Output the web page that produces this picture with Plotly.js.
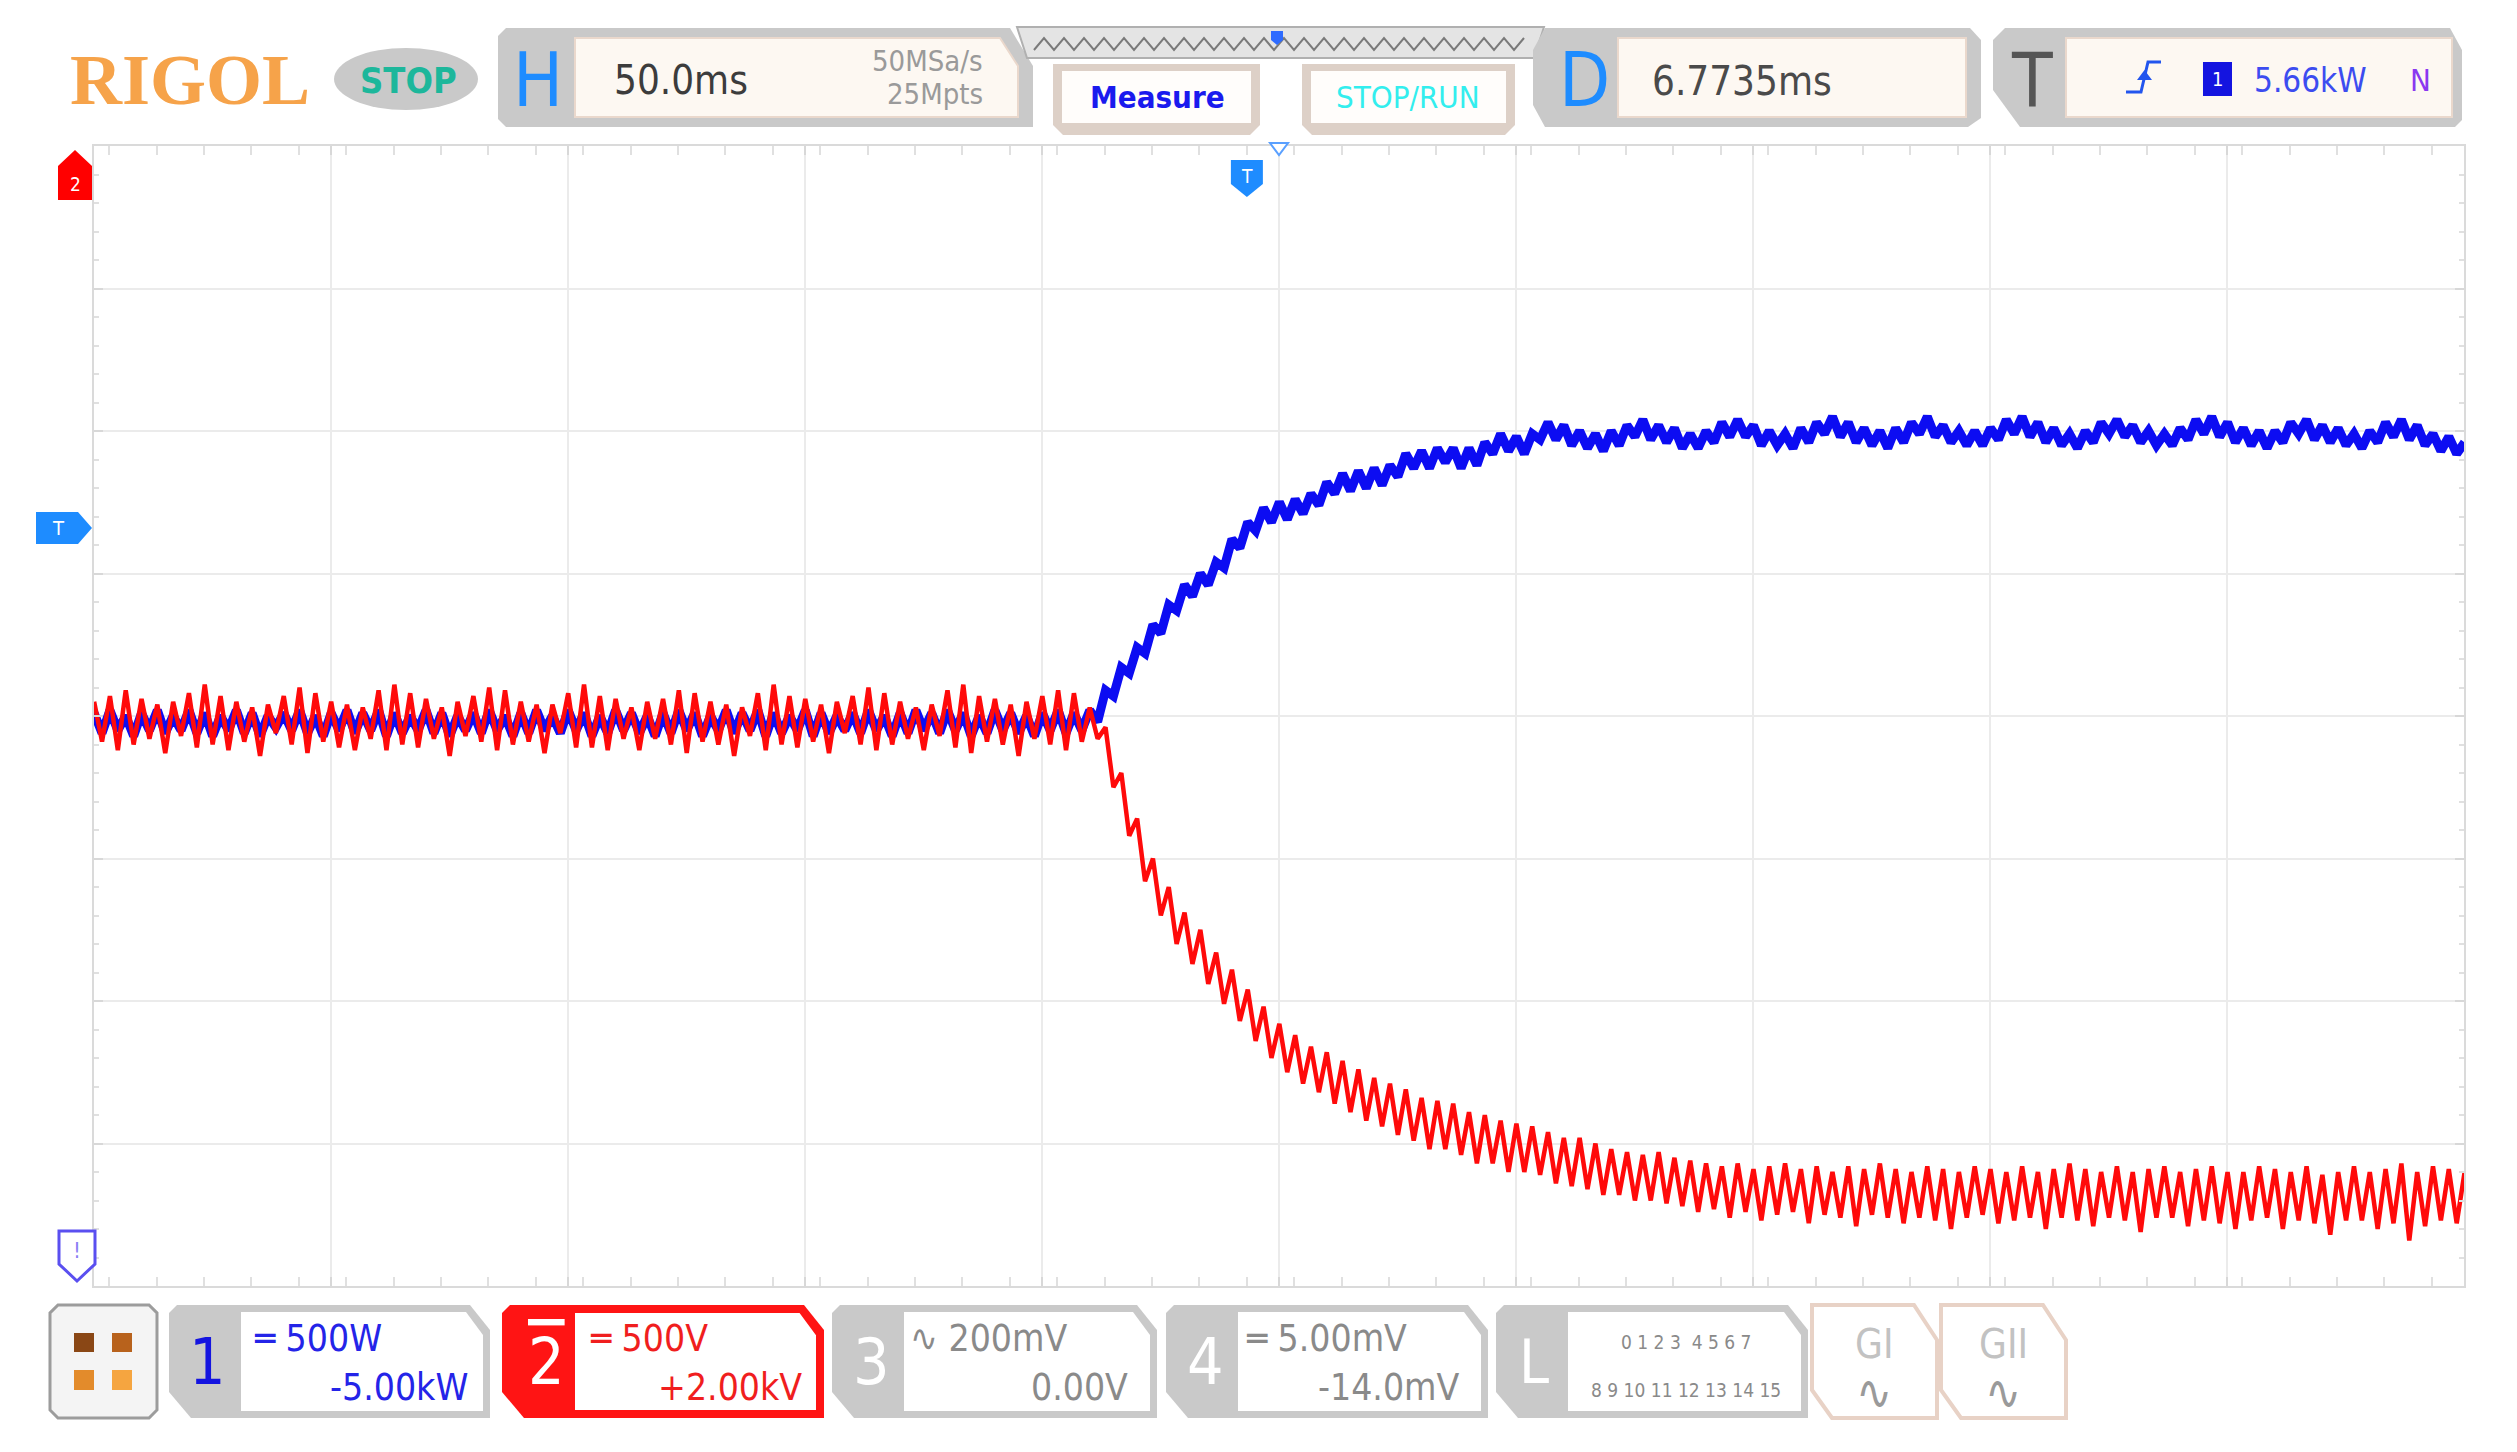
<!DOCTYPE html>
<html>
<head>
<meta charset="utf-8">
<script src="https://cdn.plot.ly/plotly-3.0.1.min.js"></script>
<style>
html, body { margin:0; padding:0; background:#fff; }
#scope { width:2517px; height:1452px; }
</style>
</head>
<body>
<div id="scope"></div>
<script>
// scope settings
const TIMEBASE_MS = 50
const DELAY_MS = 6.7735
const CH1_SCALE_KW = 0.5
const CH1_OFFSET_KW = -5.0
const CH2_SCALE_KV = 0.5
const CH2_OFFSET_KV = 2.0
const TRIG_LEVEL_KW = 5.66

// stored samples, one every SAMPLE_MS starting at FIRST_SAMPLE_MS (trigger = 0)
const FIRST_SAMPLE_MS = -243.2
const SAMPLE_MS = 1.667

// CH1, power in kW
const ch1_kw = [
5.01,4.94,5.02,4.95,5.00,4.93,5.01,4.95,5.02,4.94,5.00,4.95,
5.02,4.94,5.01,4.93,5.00,4.95,5.02,4.94,5.01,4.93,5.00,4.96,
5.01,4.95,5.02,4.94,5.00,4.93,5.01,4.95,5.02,4.94,5.01,4.95,
5.02,4.93,5.01,4.94,5.00,4.95,5.02,4.94,5.01,4.93,5.00,4.95,
5.01,4.94,5.02,4.95,5.00,4.93,5.01,4.94,5.02,4.95,5.00,4.94,
5.02,4.95,5.01,4.93,5.00,4.94,5.02,4.95,5.01,4.94,5.00,4.93,
5.01,4.94,5.02,4.95,5.01,4.93,5.00,4.95,5.02,4.94,5.01,4.95,
5.02,4.93,5.01,4.94,5.00,4.95,5.02,4.93,5.01,4.94,5.00,4.95,
5.01,4.94,5.02,4.95,5.00,4.93,5.01,4.94,5.02,4.95,5.01,4.94,
5.02,4.95,5.01,4.93,5.00,4.94,5.02,4.95,5.01,4.94,5.00,4.93,
5.01,4.95,5.02,4.94,5.01,4.95,5.02,
4.98,5.09,5.07,5.17,5.15,5.24,5.22,5.32,5.29,5.39,
5.37,5.46,5.42,5.50,5.46,5.54,5.52,5.62,5.59,5.68,
5.65,5.73,5.68,5.75,5.69,5.76,5.71,5.78,5.74,5.82,
5.78,5.85,5.79,5.86,5.80,5.87,5.81,5.88,5.84,5.92,
5.87,5.93,5.87,5.94,5.89,5.94,5.87,5.94,5.88,5.96,
5.92,5.99,5.93,5.98,5.92,5.99,
5.97,6.03,5.97,6.02,5.95,6.00,5.94,5.99,5.93,6.00,5.95,6.02,
5.98,6.04,5.97,6.02,5.96,6.01,5.94,5.99,5.94,6.00,5.96,6.03,
5.98,6.04,5.98,6.02,5.95,6.00,5.95,5.99,5.94,6.01,5.96,6.03,
5.99,6.05,5.98,6.03,5.96,6.01,5.95,6.00,5.94,6.01,5.96,6.03,
5.99,6.05,5.98,6.02,5.96,6.00,5.95,6.00,5.95,6.01,5.97,6.04,
5.99,6.05,5.98,6.03,5.96,6.01,5.95,5.99,5.94,6.00,5.96,6.03,
5.99,6.04,5.98,6.02,5.96,6.00,5.95,5.99,5.95,6.01,5.97,6.04,
5.99,6.05,5.98,6.03,5.96,6.01,5.95,6.00,5.94,6.00,5.96,6.03,
5.99,6.04,5.97,6.02,5.96,6.01,5.95,5.99,5.94,6.00,5.96,6.03,
5.98,6.04,5.97,6.02,5.95,5.99,5.93,5.98,5.92,5.96
]

// CH2, voltage in kV
const ch2_kv = [
-1.95,-2.09,-1.93,-2.12,-1.91,-2.10,-1.94,-2.08,-1.96,-2.13,-1.95,-2.07,
-1.92,-2.11,-1.89,-2.10,-1.93,-2.12,-1.95,-2.09,-1.97,-2.14,-1.96,-2.06,
-1.93,-2.10,-1.90,-2.13,-1.92,-2.09,-1.95,-2.11,-1.96,-2.12,-1.97,-2.08,
-1.91,-2.12,-1.89,-2.10,-1.92,-2.11,-1.94,-2.08,-1.97,-2.14,-1.95,-2.07,
-1.93,-2.09,-1.90,-2.12,-1.91,-2.10,-1.95,-2.09,-1.96,-2.13,-1.96,-2.06,
-1.92,-2.11,-1.89,-2.11,-1.93,-2.12,-1.94,-2.08,-1.97,-2.12,-1.95,-2.08,
-1.94,-2.10,-1.91,-2.13,-1.92,-2.09,-1.95,-2.10,-1.96,-2.14,-1.97,-2.07,
-1.92,-2.12,-1.89,-2.10,-1.93,-2.11,-1.94,-2.09,-1.96,-2.13,-1.95,-2.06,
-1.93,-2.10,-1.90,-2.12,-1.92,-2.10,-1.95,-2.08,-1.97,-2.12,-1.96,-2.07,
-1.91,-2.11,-1.89,-2.13,-1.93,-2.09,-1.94,-2.10,-1.96,-2.14,-1.95,-2.08,
-1.93,-2.10,-1.91,-2.12,-1.92,-2.09,-1.97,
-2.08,-2.04,-2.25,-2.20,-2.42,-2.36,-2.58,-2.50,-2.70,-2.60,
-2.80,-2.69,-2.87,-2.75,-2.94,-2.83,-3.01,-2.89,-3.07,-2.96,
-3.14,-3.02,-3.20,-3.08,-3.25,-3.12,-3.29,-3.16,-3.32,-3.18,
-3.36,-3.21,-3.39,-3.24,-3.42,-3.27,-3.44,-3.29,-3.47,-3.31,
-3.49,-3.34,-3.52,-3.35,-3.52,-3.36,-3.54,-3.39,-3.57,-3.40,
-3.57,-3.42,-3.60,-3.43,-3.60,-3.44,-3.61,-3.46,-3.64,-3.48,
-3.65,-3.48,-3.66,-3.50,-3.68,-3.52,-3.68,-3.53,-3.70,-3.54,
-3.70,-3.53,-3.71,-3.55,
-3.72,-3.56,-3.74,-3.57,-3.73,-3.58,-3.76,-3.57,-3.74,-3.59,-3.77,-3.58,
-3.75,-3.57,-3.74,-3.59,-3.78,-3.58,-3.75,-3.60,-3.76,-3.58,-3.79,-3.59,
-3.75,-3.57,-3.76,-3.59,-3.78,-3.60,-3.76,-3.58,-3.77,-3.59,-3.80,-3.60,
-3.76,-3.58,-3.75,-3.59,-3.78,-3.60,-3.77,-3.58,-3.76,-3.60,-3.80,-3.59,
-3.76,-3.57,-3.77,-3.59,-3.79,-3.60,-3.76,-3.58,-3.77,-3.60,-3.81,-3.59,
-3.76,-3.58,-3.76,-3.60,-3.79,-3.59,-3.77,-3.58,-3.78,-3.60,-3.80,-3.60,
-3.77,-3.58,-3.76,-3.59,-3.80,-3.60,-3.77,-3.58,-3.78,-3.61,-3.82,-3.60,
-3.77,-3.58,-3.77,-3.60,-3.80,-3.59,-3.78,-3.57,-3.84,-3.60,-3.79,-3.58,
-3.77,-3.59,-3.78,-3.60
]

const t_ms = ch1_kw.map((v, i) => FIRST_SAMPLE_MS + i * SAMPLE_MS)

const X_RANGE = [DELAY_MS - 5 * TIMEBASE_MS, DELAY_MS + 5 * TIMEBASE_MS]
const Y1_RANGE = [-CH1_OFFSET_KW - 4 * CH1_SCALE_KW, -CH1_OFFSET_KW + 4 * CH1_SCALE_KW]
const Y2_RANGE = [-CH2_OFFSET_KV - 4 * CH2_SCALE_KV, -CH2_OFFSET_KV + 4 * CH2_SCALE_KV]

// screen area in page pixels
const PL = 94, PR = 2464, PT = 146, PB = 1286
const NARROW = '"Liberation Sans Narrow", "DejaVu Sans Condensed", "Roboto Condensed", "Arial Narrow", "Liberation Sans", sans-serif'

function fx(x){ return (x - PL) / (PR - PL) }
function fy(y){ return (PB - y) / (PB - PT) }
function timePx(t){ return PL + (t - X_RANGE[0]) / (X_RANGE[1] - X_RANGE[0]) * (PR - PL) }
function kwPx(v){ return PB - (v - Y1_RANGE[0]) / (Y1_RANGE[1] - Y1_RANGE[0]) * (PB - PT) }

let shapes = []
let annotations = []

function poly(pts, fill, line, lw){
	shapes.push({
		type:'path', xref:'paper', yref:'paper', layer:'above',
		path:'M' + pts.map(p => fx(p[0]).toFixed(5) + ',' + fy(p[1]).toFixed(5)).join('L') + 'Z',
		fillcolor:fill, line:{color:line || fill, width:lw || 0}
	})
}
function polyline(pts, color, lw){
	shapes.push({
		type:'path', xref:'paper', yref:'paper', layer:'above',
		path:'M' + pts.map(p => fx(p[0]).toFixed(5) + ',' + fy(p[1]).toFixed(5)).join('L'),
		line:{color:color, width:lw}
	})
}
function label(x, y, text, size, color, opts){
	annotations.push(Object.assign({
		xref:'paper', yref:'paper', x:fx(x), y:fy(y), text:text, showarrow:false,
		xanchor:'center', yanchor:'middle',
		font:{family:NARROW, size:size, color:color}
	}, opts || {}))
}
function rect(x0, y0, x1, y1, fill, line, lw){
	poly([[x0,y0],[x1,y0],[x1,y1],[x0,y1]], fill, line, lw)
}

// ---- top bar ----
label(190, 80, '<b>RIGOL</b>', 72, '#f6a34a', {font:{family:'"Liberation Serif", "DejaVu Serif", serif', size:72, color:'#f6a34a'}})
shapes.push({type:'circle', xref:'paper', yref:'paper', layer:'above', x0:fx(334), x1:fx(478), y0:fy(48), y1:fy(110), fillcolor:'#c9c9c9', line:{width:0}})
label(408, 81, '<b>STOP</b>', 36, '#1db79b')

// H box
poly([[506,28],[1010,28],[1033,66],[1033,127],[506,127],[498,119],[498,36]], '#c9c9c9')
poly([[575,38],[1000,38],[1018,66],[1018,117],[575,117]], '#fdf8f2', '#ead8cc', 2)
label(538, 80, 'H', 74, '#1e8cff')
label(612, 80, '50.0ms', 40, '#3c3c3c', {xanchor:'left'})
label(985, 61, '50MSa/s', 29, '#9a9a9a', {xanchor:'right'})
label(985, 94, '25Mpts', 29, '#9a9a9a', {xanchor:'right'})

// memory overview bar
poly([[1017,27],[1544,27],[1534,58],[1027,58]], '#e4e4e4', '#b0b0b0', 2)
let zig = []
for(let x = 1034; x <= 1526; x += 10) zig.push([x, (x - 1034) % 20 == 0 ? 50 : 38])
polyline(zig, '#7a7a7a', 2)
poly([[1271,31],[1283,31],[1283,40],[1277,45],[1271,40]], '#2e6bff')

// Measure and STOP/RUN buttons
poly([[1053,64],[1260,64],[1260,125],[1250,135],[1063,135],[1053,125]], '#ddd0c7')
rect(1062, 71, 1251, 123, '#fffdfb')
label(1157, 97, '<b>Measure</b>', 31, '#1a1aee')
poly([[1302,64],[1515,64],[1515,125],[1505,135],[1312,135],[1302,125]], '#ddd0c7')
rect(1311, 71, 1506, 123, '#fffdfb')
label(1408, 97, 'STOP/RUN', 31, '#33eeee')

// D box
poly([[1545,28],[1970,28],[1981,40],[1981,118],[1968,127],[1545,127],[1533,105],[1533,50]], '#c9c9c9')
rect(1618, 38, 1966, 117, '#fdf8f2', '#ead8cc', 2)
label(1584, 80, 'D', 74, '#1e8cff')
label(1650, 81, '6.7735ms', 40, '#4a4a4a', {xanchor:'left'})

// T box
poly([[2005,28],[2450,28],[2462,50],[2462,120],[2455,127],[2020,127],[1993,90],[1993,40]], '#c9c9c9')
rect(2066, 38, 2452, 117, '#fdf8f2', '#ead8cc', 2)
label(2032, 80, 'T', 74, '#555555')
polyline([[2126,92],[2141,92],[2148,62],[2161,62]], '#2255ee', 3)
poly([[2137,80],[2152,80],[2144.5,70]], '#2255ee')
rect(2203, 62, 2232, 96, '#1414e0')
label(2217.5, 79, '1', 20, '#ffffff')
label(2252, 80, '5.66kW', 33, '#3c4cf0', {xanchor:'left'})
label(2420, 80, 'N', 31, '#8a38f0')

// ---- bottom bar ----
poly([[58,1305],[149,1305],[157,1313],[157,1410],[149,1418],[58,1418],[50,1410],[50,1313]], '#f4f4f4', '#9c9c9c', 3)
rect(74, 1333, 94, 1352, '#8a4715')
rect(112, 1333, 132, 1352, '#b8621c')
rect(74, 1370, 94, 1390, '#e38b2b')
rect(112, 1370, 132, 1390, '#f5a540')

function chanBox(x0, x1, frame, inner, innerLine){
	poly([[x0+8,1305],[x1-20,1305],[x1,1330],[x1,1418],[x0+22,1418],[x0,1392],[x0,1313]], frame)
	poly([[x0+72,1312],[x1-24,1312],[x1-7,1335],[x1-7,1411],[x0+72,1411]], inner, innerLine, innerLine ? 2 : 0)
}
chanBox(169, 490, '#c9c9c9', '#ffffff')
label(207, 1362, '1', 64, '#1414e0')
label(252, 1338, '═ 500W', 37, '#2424e8', {xanchor:'left'})
label(470, 1387, '-5.00kW', 37, '#2424e8', {xanchor:'right'})

chanBox(502, 824, '#ff1414', '#ffffff', '#ff1414')
label(546, 1362, '<span style="text-decoration:overline">2</span>', 64, '#ffffff')
label(588, 1338, '═ 500V', 37, '#f01e1e', {xanchor:'left'})
label(804, 1387, '+2.00kV', 37, '#f01e1e', {xanchor:'right'})

chanBox(832, 1157, '#c9c9c9', '#ffffff')
label(871, 1362, '3', 64, '#ffffff')
label(908, 1338, '∿ 200mV', 37, '#8a8a8a', {xanchor:'left'})
label(1130, 1387, '0.00V', 37, '#8a8a8a', {xanchor:'right'})

chanBox(1166, 1488, '#c9c9c9', '#ffffff')
label(1205, 1362, '4', 64, '#ffffff')
label(1244, 1338, '═ 5.00mV', 37, '#8a8a8a', {xanchor:'left'})
label(1462, 1387, '-14.0mV', 37, '#8a8a8a', {xanchor:'right'})

chanBox(1496, 1808, '#c9c9c9', '#ffffff')
label(1534, 1362, 'L', 60, '#ffffff')
label(1686, 1342, '0 1 2 3 &nbsp;4 5 6 7', 19, '#8a8a8a')
label(1686, 1390, '8 9 10 11 12 13 14 15', 19, '#8a8a8a')

poly([[1812,1305],[1914,1305],[1937,1340],[1937,1418],[1832,1418],[1812,1390]], '#ffffff', '#e8d2c6', 4)
label(1874, 1344, 'GI', 40, '#c2c2c2')
label(1874, 1392, '∿', 48, '#9a9a9a')
poly([[1941,1305],[2043,1305],[2066,1340],[2066,1418],[1961,1418],[1941,1390]], '#ffffff', '#e8d2c6', 4)
label(2003, 1344, 'GII', 40, '#c2c2c2')
label(2003, 1392, '∿', 48, '#9a9a9a')

// ---- screen markers ----
// CH2 reference off screen above
poly([[58,200],[58,166],[75,150],[92,166],[92,200]], '#ff0000')
label(75, 184, '2', 19, '#ffffff')
// CH1 reference off screen below
poly([[59,1231],[95,1231],[95,1264],[77,1281],[59,1264]], '#ffffff', '#5a4ff0', 3)
label(77, 1250, '!', 22, '#8c80f4')
// trigger level
const trigY = kwPx(TRIG_LEVEL_KW)
poly([[36,trigY-16],[78,trigY-16],[92,trigY],[78,trigY+16],[36,trigY+16]], '#1e8cff')
label(58, trigY, 'T', 20, '#ffffff')
// trigger position
const trigX = timePx(0)
poly([[trigX-16,160],[trigX+16,160],[trigX+16,184],[trigX,197],[trigX-16,184]], '#1e8cff')
label(trigX, 176, 'T', 19, '#ffffff')
// screen centre marker
const midX = timePx(DELAY_MS)
poly([[midX-9,143],[midX+9,143],[midX,155]], '#ffffff', '#5aa0ff', 2)

// centre cross of the graticule
shapes.push({type:'line', xref:'x', yref:'paper', x0:DELAY_MS, x1:DELAY_MS, y0:0, y1:1, layer:'below', line:{color:'#d2d2d2', width:2, dash:'dot'}})
shapes.push({type:'line', xref:'paper', yref:'y', x0:0, x1:1, y0:-CH1_OFFSET_KW, y1:-CH1_OFFSET_KW, layer:'below', line:{color:'#d2d2d2', width:2, dash:'dot'}})

let traces = [
	{
		x:t_ms, y:ch1_kw, type:'scatter', mode:'lines', name:'CH1',
		line:{color:'#0c0cf2', width:9}, yaxis:'y', hoverinfo:'skip'
	},
	{
		x:t_ms, y:ch2_kv, type:'scatter', mode:'lines', name:'CH2',
		line:{color:'#ff0a0a', width:4.5}, yaxis:'y2', hoverinfo:'skip'
	}
]

let grid = {
	showgrid:true, gridcolor:'#ebebeb', gridwidth:2, zeroline:false,
	showline:true, linecolor:'#dadada', linewidth:2, mirror:'allticks',
	ticks:'inside', ticklen:9, tickcolor:'#d8d8d8', tickwidth:2,
	showticklabels:false, fixedrange:true
}

Plotly.newPlot('scope', traces, {
	width:2517, height:1452,
	margin:{l:PL, r:2517 - PR, t:PT, b:1452 - PB, pad:0},
	paper_bgcolor:'#ffffff', plot_bgcolor:'#ffffff',
	showlegend:false,
	xaxis:Object.assign({}, grid, {
		range:X_RANGE, tick0:DELAY_MS, dtick:TIMEBASE_MS,
		minor:{dtick:TIMEBASE_MS / 5, ticks:'inside', ticklen:5, tickcolor:'#e0e0e0', showgrid:false}
	}),
	yaxis:Object.assign({}, grid, {
		range:Y1_RANGE, tick0:Y1_RANGE[0], dtick:CH1_SCALE_KW,
		minor:{dtick:CH1_SCALE_KW / 5, ticks:'inside', ticklen:5, tickcolor:'#e0e0e0', showgrid:false}
	}),
	yaxis2:{range:Y2_RANGE, overlaying:'y', visible:false, fixedrange:true},
	shapes:shapes,
	annotations:annotations
}, {displayModeBar:false, staticPlot:true})
</script>
</body>
</html>
